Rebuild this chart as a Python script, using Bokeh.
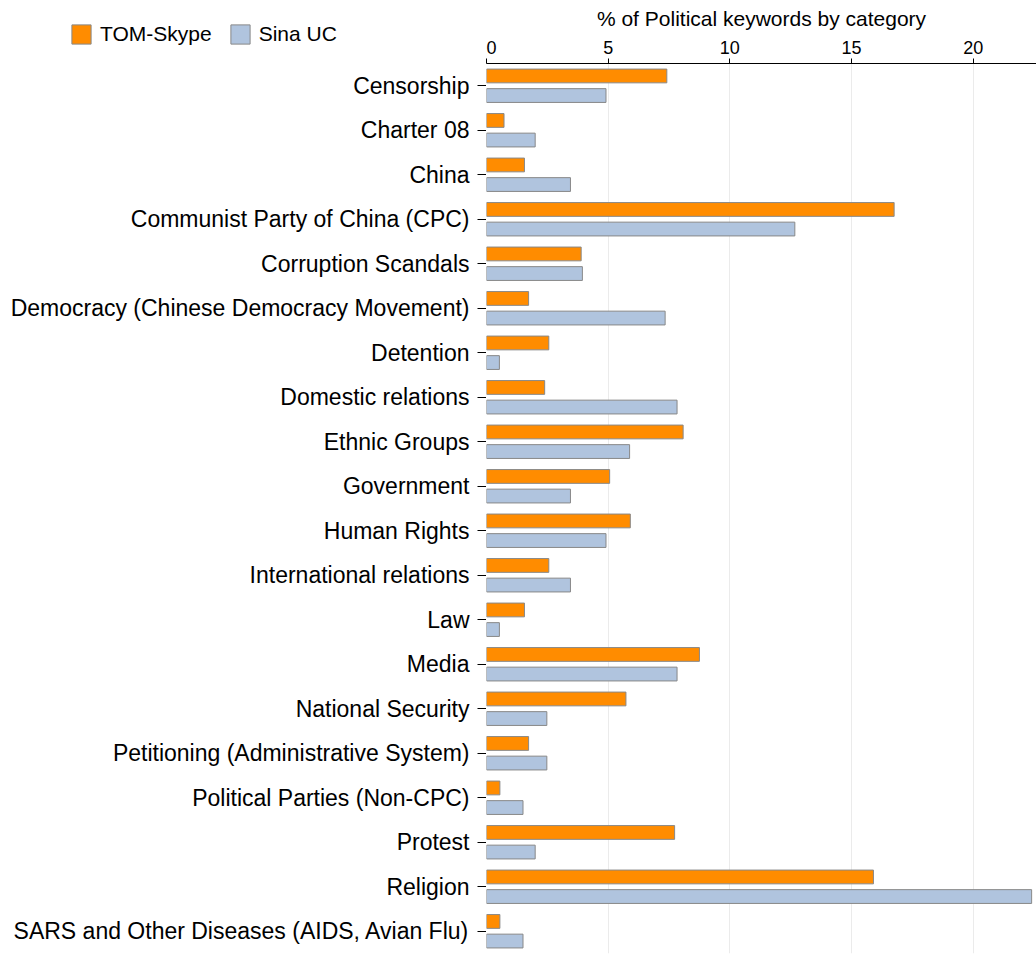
from bokeh.plotting import figure
from bokeh.layouts import row, column
from bokeh.models import FactorRange, Range1d, Legend, LegendItem, ColumnDataSource
from bokeh.transform import dodge
from bokeh.embed import file_html
from bokeh.resources import INLINE

categories = [
    "Censorship", "Charter 08", "China", "Communist Party of China (CPC)",
    "Corruption Scandals", "Democracy (Chinese Democracy Movement)", "Detention",
    "Domestic relations", "Ethnic Groups", "Government", "Human Rights",
    "International relations", "Law", "Media", "National Security",
    "Petitioning (Administrative System)", "Political Parties (Non-CPC)",
    "Protest", "Religion", "SARS and Other Diseases (AIDS, Avian Flu)",
]
tom_skype = [7.41, 0.72, 1.56, 16.75, 3.89, 1.73, 2.56, 2.39, 8.08, 5.06,
             5.91, 2.56, 1.56, 8.75, 5.73, 1.73, 0.55, 7.73, 15.9, 0.55]
sina_uc = [4.91, 2.0, 3.45, 12.67, 3.94, 7.34, 0.53, 7.83, 5.88, 3.45,
           4.91, 3.45, 0.53, 7.83, 2.48, 2.48, 1.5, 2.0, 22.4, 1.5]
x_ticks = [0, 5, 10, 15, 20]

FONT = "Liberation Sans"
ORANGE = "#FF8C00"
BLUE = "#B0C4DE"
EDGE = "#888888"

src = ColumnDataSource(dict(cat=categories, tom=tom_skype, sina=sina_uc))
y_range = FactorRange(factors=list(reversed(categories)), range_padding=0)

# ---- main plot (bars + top axis) ----
p = figure(
    width=550, height=954,
    y_range=y_range, x_range=Range1d(0, 22.6),
    x_axis_location="above", y_axis_location=None,
    output_backend="svg", toolbar_location=None,
    min_border_left=0, min_border_right=0, min_border_top=63, min_border_bottom=1,
)
p.hbar(y=dodge("cat", 0.22, range=y_range), right="tom", left=0, height=0.31,
       source=src, fill_color=ORANGE, line_color=EDGE, line_width=1)
p.hbar(y=dodge("cat", -0.22, range=y_range), right="sina", left=0, height=0.31,
       source=src, fill_color=BLUE, line_color=EDGE, line_width=1)
p.outline_line_color = None
p.ygrid.grid_line_color = None
p.xgrid.grid_line_color = "#ebebeb"
p.xgrid.ticker = x_ticks[1:]

xa = p.xaxis[0]
xa.ticker = x_ticks
xa.axis_label = "% of Political keywords by category"
xa.axis_label_text_font = FONT
xa.axis_label_text_font_size = "21px"
xa.axis_label_text_font_style = "normal"
xa.axis_label_text_color = "black"
xa.axis_label_standoff = 8
xa.major_label_text_font = FONT
xa.major_label_text_font_size = "18px"
xa.major_label_text_color = "black"
xa.major_label_standoff = 5
xa.major_tick_out = 5
xa.major_tick_in = 0
xa.major_tick_line_color = "black"
xa.minor_tick_out = 0
xa.minor_tick_in = 0
xa.axis_line_color = "black"

# ---- category axis (left) ----
pa = figure(
    width=486, height=891,
    y_range=y_range, x_range=Range1d(0, 1),
    x_axis_location=None,
    output_backend="svg", toolbar_location=None,
    min_border_left=485, min_border_right=0, min_border_top=0, min_border_bottom=1,
)
pa.outline_line_color = None
pa.grid.grid_line_color = None
ya = pa.yaxis[0]
ya.major_label_text_font = FONT
ya.major_label_text_font_size = "23px"
ya.major_label_text_color = "black"
ya.major_label_standoff = 8
ya.major_tick_out = 9
ya.major_tick_in = 0
ya.axis_line_color = "black"
ya.major_tick_line_color = "black"

# ---- legend block (top-left) ----
pl = figure(
    width=486, height=63,
    y_range=FactorRange(factors=list(reversed(categories))), x_range=Range1d(-10, -5),
    x_axis_location=None, y_axis_location=None,
    output_backend="svg", toolbar_location=None,
    min_border_left=485, min_border_right=0, min_border_top=0, min_border_bottom=0,
)
pl.outline_line_color = None
pl.grid.grid_line_color = None
l1 = pl.hbar(y="cat", right="tom", left=0, height=0.3, source=src,
             fill_color=ORANGE, line_color=EDGE, line_width=1)
l2 = pl.hbar(y="cat", right="sina", left=0, height=0.3, source=src,
             fill_color=BLUE, line_color=EDGE, line_width=1)
legend = Legend(
    items=[LegendItem(label="TOM-Skype", renderers=[l1]),
           LegendItem(label="Sina UC", renderers=[l2])],
    orientation="horizontal",
    location=(69, 17),
    border_line_color=None,
    background_fill_alpha=0,
    label_text_font=FONT,
    label_text_font_size="21px",
    label_text_color="black",
    glyph_width=24, glyph_height=24, label_height=24,
    label_standoff=7, spacing=16, padding=0, margin=0,
)
pl.add_layout(legend, "left")

layout = row(column(pl, pa, spacing=0), p, spacing=0)

open("out.html", "w").write(file_html(layout, INLINE))
